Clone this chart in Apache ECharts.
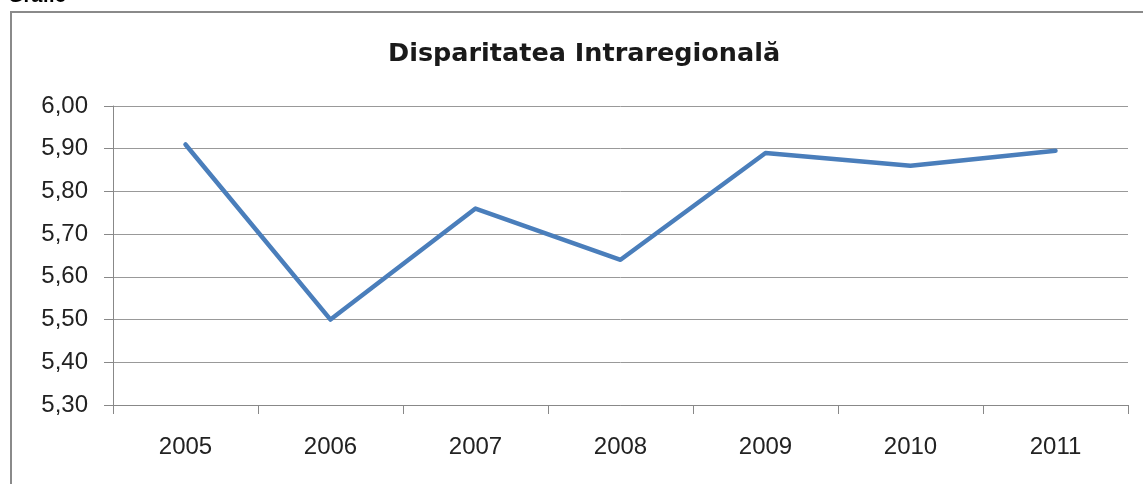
<!DOCTYPE html>
<html>
<head>
<meta charset="utf-8">
<script src="https://cdn.jsdelivr.net/npm/echarts@6/dist/echarts.min.js"></script>
<style>
  html, body { margin: 0; padding: 0; background: #fff; }
  #root { width: 1143px; height: 484px; }
</style>
</head>
<body>
<div id="root"></div>
<script>
const years = ['2005', '2006', '2007', '2008', '2009', '2010', '2011'];
const disparitate = [5.91, 5.50, 5.76, 5.64, 5.89, 5.86, 5.895];

const container = document.getElementById('root');
const myChart = echarts.init(container);

const axisFont = 'Liberation Sans, Arial, sans-serif';

const option = {
  animation: false,
  backgroundColor: '#fff',
  title: {
    text: 'Disparitatea Intraregională',
    left: 383,
    top: 36,
    textStyle: {
      fontFamily: 'DejaVu Sans, Verdana, sans-serif',
      fontSize: 25.5,
      fontWeight: 'bold',
      color: '#1a1a1a'
    }
  },
  graphic: [{
    type: 'rect',
    shape: { x: 11, y: 12, width: 1300, height: 600 },
    style: { fill: 'none', stroke: '#8a8a8a', lineWidth: 2 },
    silent: true
  }, {
    type: 'text',
    left: 8,
    top: -14,
    style: {
      text: 'Grafic',
      font: 'bold 20px Liberation Sans, Arial, sans-serif',
      fill: '#000'
    }
  }],
  grid: {
    left: 113,
    right: 15,
    top: 106,
    bottom: 79
  },
  xAxis: {
    type: 'category',
    data: years,
    boundaryGap: true,
    axisLine: { lineStyle: { color: '#888', width: 1 } },
    axisTick: { show: true, length: 9, lineStyle: { color: '#888' } },
    axisLabel: {
      margin: 30,
      fontFamily: axisFont,
      fontSize: 24,
      color: '#222'
    }
  },
  yAxis: {
    type: 'value',
    min: 5.3,
    max: 6.0,
    interval: 0.1,
    axisLine: { show: true, lineStyle: { color: '#888', width: 1 } },
    axisTick: { show: true, length: 9, lineStyle: { color: '#888' } },
    splitLine: { lineStyle: { color: '#999', width: 1 } },
    axisLabel: {
      margin: 25,
      fontFamily: axisFont,
      fontSize: 24,
      color: '#222',
      formatter: v => v.toFixed(2).replace('.', ',')
    }
  },
  series: [{
    name: 'Disparitatea',
    type: 'line',
    data: disparitate,
    symbol: 'none',
    smooth: false,
    lineStyle: { color: '#4a7ebb', width: 4.5, cap: 'round', join: 'round' }
  }]
};

myChart.setOption(option);

window.onresize = () => myChart.resize();
</script>
</body>
</html>
